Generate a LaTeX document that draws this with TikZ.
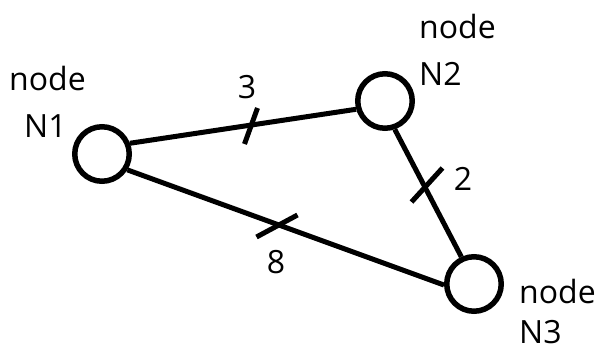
\documentclass[tikz,border=0pt]{standalone}
\usepackage{fontspec}
\setmainfont{Open Sans}
\usetikzlibrary{calc}
\begin{document}
\begin{tikzpicture}[x=1pt,y=-1pt,
  vertex/.style={circle,draw,line width=5.5pt,minimum size=54.5pt,inner sep=0pt},
  edge/.style={line width=5pt},
  tick/.style={line width=5pt},
  lbl/.style={font=\fontsize{32}{38}\selectfont,inner sep=0pt,anchor=base west},
  wt/.style={font=\fontsize{32}{38}\selectfont,inner sep=0pt}]
\useasboundingbox (0,0) rectangle (604,353);
\node[vertex] (n1) at (102,154) {};
\node[vertex] (n2) at (385,101) {};
\node[vertex] (n3) at (474,284) {};
\node[lbl] (l1a) at (9,90) {node};
\node[lbl] (l1b) at (24,137) {N1};
\node[lbl] (l2a) at (419,38) {node};
\node[lbl] (l2b) at (419,85) {N2};
\node[lbl] (l3a) at (519,303) {node};
\node[lbl] (l3b) at (519,343) {N3};
\draw[edge] (n1.21) -- (n2.196);
\draw[edge] (n1.-32) -- (n3.182);
\draw[edge] (n2.-71) -- (n3.115);
\coordinate (t12) at (251,126);
\coordinate (t13) at (277,226);
\coordinate (t23) at (427,185);
\draw[tick] ($(t12)+(-6.5,18)$) -- ($(t12)+(6.5,-18)$);
\draw[tick] ($(t13)+(-20.5,11)$) -- ($(t13)+(20.5,-11)$);
\draw[tick] ($(t23)+(-15.5,17)$) -- ($(t23)+(15.5,-17)$);
\node[wt] (w12) at (247,87) {3};
\node[wt] (w13) at (276,262) {8};
\node[wt] (w23) at (463,179) {2};
\end{tikzpicture}
\end{document}
